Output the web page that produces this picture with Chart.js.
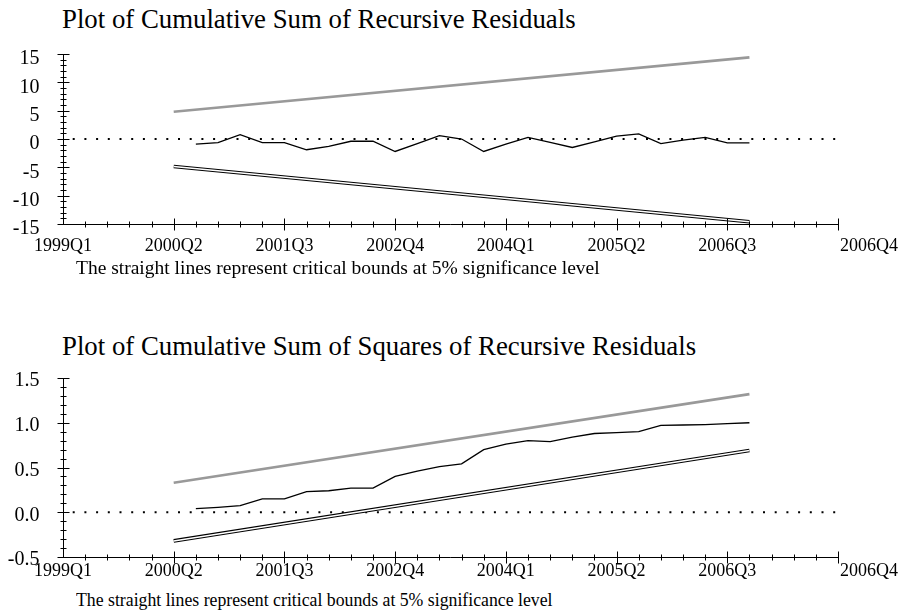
<!DOCTYPE html>
<html>
<head>
<meta charset="utf-8">
<script src="https://cdn.jsdelivr.net/npm/chart.js@4"></script>
<style>
  body { margin: 0; background: #fff; width: 910px; height: 616px; position: relative; overflow: hidden; font-family: "Liberation Serif", "Times New Roman", serif; color: #000; }
  .title { position: absolute; left: 62px; font-size: 26.8px; white-space: nowrap; line-height: 30px; }
  .note { position: absolute; left: 76px; font-size: 19.5px; white-space: nowrap; line-height: 22px; transform-origin: 0 0; }
  .box { position: absolute; left: 0; width: 910px; }
</style>
</head>
<body>
<div class="title" style="top:4px">Plot of Cumulative Sum of Recursive Residuals</div>
<div class="box" style="top:40px;height:218px"><canvas id="c1"></canvas></div>
<div class="note" style="top:257px">The straight lines represent critical bounds at 5% significance level</div>

<div class="title" style="top:331px">Plot of Cumulative Sum of Squares of Recursive Residuals</div>
<div class="box" style="top:364px;height:222px"><canvas id="c2"></canvas></div>
<div class="note" style="top:589px;transform:scaleX(0.91)">The straight lines represent critical bounds at 5% significance level</div>

<script>
// quarters from 1999Q1 (index 0); labelled ticks every 5 quarters
const xTickLabels = ['1999Q1', '2000Q2', '2001Q3', '2002Q4', '2004Q1', '2005Q2', '2006Q3', '2006Q4'];
const boundIdx = [5, 31];
const zeroIdx = [0, 35];
const zeroVals = [0, 0];
const seriesIdx = [6,7,8,9,10,11,12,13,14,15,16,17,18,19,20,21,22,23,24,25,26,27,28,29,30,31];

// CUSUM
const cusum = [-0.9,-0.65,0.75,-0.65,-0.65,-1.9,-1.3,-0.4,-0.4,-2.2,-0.8,0.6,0.0,-2.2,-0.9,0.3,-0.6,-1.5,-0.5,0.5,0.9,-0.8,-0.2,0.3,-0.7,-0.7];
const cusumUpper = [4.8, 14.4];
const cusumLower = [-4.85, -14.6];

// CUSUM of squares
const cusumsq = [0.04,0.055,0.075,0.15,0.15,0.23,0.24,0.27,0.27,0.40,0.46,0.51,0.54,0.70,0.76,0.80,0.79,0.84,0.88,0.89,0.90,0.97,0.975,0.98,0.99,1.00];
const sqUpper = [0.33, 1.32];
const sqLower = [-0.32, 0.69];

const pts = (xs, ys) => xs.map((x, i) => ({ x: x, y: ys[i] }));
const serif = '"Liberation Serif", "Times New Roman", serif';

// axes with ticks crossing the axis line, as in the original plots
function axesPlugin(o) {
  return {
    id: 'crossAxes',
    afterDraw(chart) {
      const { ctx, scales: { x, y } } = chart;
      ctx.save();
      ctx.strokeStyle = '#000';
      ctx.lineWidth = 1;
      ctx.beginPath();
      const x0 = Math.round(x.getPixelForValue(0)) + 0.5;
      const x1 = x.getPixelForValue(35);
      const yb = Math.round(y.bottom) + 0.5;
      ctx.moveTo(x0, y.top); ctx.lineTo(x0, yb);
      ctx.moveTo(x0, yb); ctx.lineTo(x1, yb);
      for (let q = 1; q <= 35; q++) {
        const px = Math.round(x.getPixelForValue(q)) + 0.5;
        const h = q % 5 === 0 ? 6 : 3;
        ctx.moveTo(px, yb - h); ctx.lineTo(px, yb + h);
      }
      const n = Math.round((y.max - y.min) / o.yMinor);
      for (let k = 0; k <= n; k++) {
        const v = y.min + k * o.yMinor;
        const py = Math.round(y.getPixelForValue(v)) + 0.5;
        const major = Math.abs(v / o.yStep - Math.round(v / o.yStep)) < 1e-6;
        const h = major ? 6 : 3;
        ctx.moveTo(x0 - h, py); ctx.lineTo(x0 + h, py);
      }
      ctx.stroke();

      ctx.fillStyle = '#000';
      // y labels from the scale's own ticks
      ctx.font = '20px ' + serif;
      ctx.textAlign = 'right';
      ctx.textBaseline = 'middle';
      y.ticks.forEach(t => {
        ctx.fillText(t.value.toFixed(o.decimals), x0 - 24, y.getPixelForValue(t.value) + o.yLabOff);
      });
      // x labels
      ctx.font = '18px ' + serif;
      ctx.textAlign = 'center';
      ctx.textBaseline = 'alphabetic';
      xTickLabels.forEach((lab, i) => {
        let px = x.getPixelForValue(i * 5);
        if (i === xTickLabels.length - 1) px += 31;
        ctx.fillText(lab, px, yb + o.xBase);
      });
      ctx.restore();
    }
  };
}

function makeChart(id, series, upper, lower, o) {
  return new Chart(document.getElementById(id), {
    type: 'line',
    data: {
      datasets: [
        { data: pts(seriesIdx, series), borderColor: '#000', borderWidth: 1.3, pointRadius: 0 },
        { data: pts(boundIdx, lower), borderColor: '#fff', borderWidth: 1.5, pointRadius: 0 },
        { data: pts(boundIdx, lower), borderColor: '#000', borderWidth: 3.6, pointRadius: 0 },
        { data: pts(boundIdx, upper), borderColor: '#999999', borderWidth: 2.6, pointRadius: 0 },
        { data: pts(zeroIdx, zeroVals), borderColor: '#000', borderWidth: 2, borderDash: [2, 9.7], borderDashOffset: 2, pointRadius: 0 }
      ]
    },
    options: {
      responsive: true,
      maintainAspectRatio: false,
      animation: false,
      layout: { padding: { top: 14, right: 72, left: 0, bottom: 0 } },
      plugins: { legend: { display: false }, tooltip: { enabled: false } },
      scales: {
        x: {
          type: 'linear', min: 0, max: 35,
          grid: { display: false }, border: { display: false },
          ticks: { display: false },
          afterFit: s => { s.height = o.xH; }
        },
        y: {
          min: o.yMin, max: o.yMax,
          grid: { display: false, drawTicks: false }, border: { display: false },
          ticks: { stepSize: o.yStep, display: false },
          afterFit: s => { s.width = 63; }
        }
      }
    },
    plugins: [axesPlugin(o)]
  });
}

makeChart('c1', cusum, cusumUpper, cusumLower,
  { yMin: -15, yMax: 15, yStep: 5, yMinor: 1, decimals: 0, xH: 34, yLabOff: 5, xBase: 26 });
makeChart('c2', cusumsq, sqUpper, sqLower,
  { yMin: -0.5, yMax: 1.5, yStep: 0.5, yMinor: 0.1, decimals: 1, xH: 29, yLabOff: 3, xBase: 18 });
</script>
</body>
</html>
